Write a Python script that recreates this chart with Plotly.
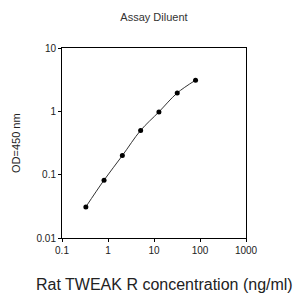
import plotly.graph_objects as go

conc = [0.33, 0.82, 2.05, 5.12, 12.8, 32, 80]
od = [0.031, 0.082, 0.20, 0.50, 0.98, 1.95, 3.1]
x_ticks = [0.1, 1, 10, 100, 1000]
x_tick_labels = ["0.1", "1", "10", "100", "1000"]
y_ticks = [0.01, 0.1, 1, 10]
y_tick_labels = ["0.01", "0.1", "1", "10"]

font = "Liberation Sans, Arial, sans-serif"

fig = go.Figure()
fig.add_trace(go.Scatter(
    x=conc, y=od, mode="lines+markers",
    line=dict(color="#333333", width=1, shape="spline"),
    marker=dict(color="black", size=5),
    showlegend=False,
))

fig.update_layout(
    width=299, height=293,
    margin=dict(l=62, r=53, t=48, b=55),
    paper_bgcolor="white", plot_bgcolor="white",
    font=dict(family=font, color="#222222"),
    title=dict(text="Assay Diluent", x=0.5, xref="paper", xanchor="center",
               y=1 - 17 / 293, yref="container", yanchor="middle",
               font=dict(size=11, family=font, color="#333333")),
    annotations=[
        dict(text="Rat TWEAK R concentration (ng/ml)", xref="paper", yref="paper",
             x=0.557, y=0, xanchor="center", yanchor="middle", yshift=-46,
             showarrow=False, font=dict(size=16, family=font, color="#222222")),
        dict(text="OD=450 nm", xref="paper", yref="paper",
             x=0, y=0.5, xanchor="center", yanchor="middle", xshift=-46,
             textangle=-90, showarrow=False,
             font=dict(size=11, family=font, color="#222222")),
    ],
)
fig.update_xaxes(
    type="log", range=[-1, 3],
    tickvals=x_ticks, ticktext=x_tick_labels,
    ticks="outside", ticklen=3, tickwidth=1, tickcolor="black",
    showline=True, linecolor="black", linewidth=1, mirror=True,
    showgrid=False, zeroline=False,
    tickfont=dict(size=10, family=font, color="#222222"),
)
fig.update_yaxes(
    type="log", range=[-2, 1],
    tickvals=y_ticks, ticktext=y_tick_labels,
    ticks="outside", ticklen=3, tickwidth=1, tickcolor="black",
    showline=True, linecolor="black", linewidth=1, mirror=True,
    showgrid=False, zeroline=False,
    tickfont=dict(size=10, family=font, color="#222222"),
)

fig.write_html("out.html", config={"displayModeBar": False},
               post_script="document.body.style.margin='0';document.body.style.padding='0';")
